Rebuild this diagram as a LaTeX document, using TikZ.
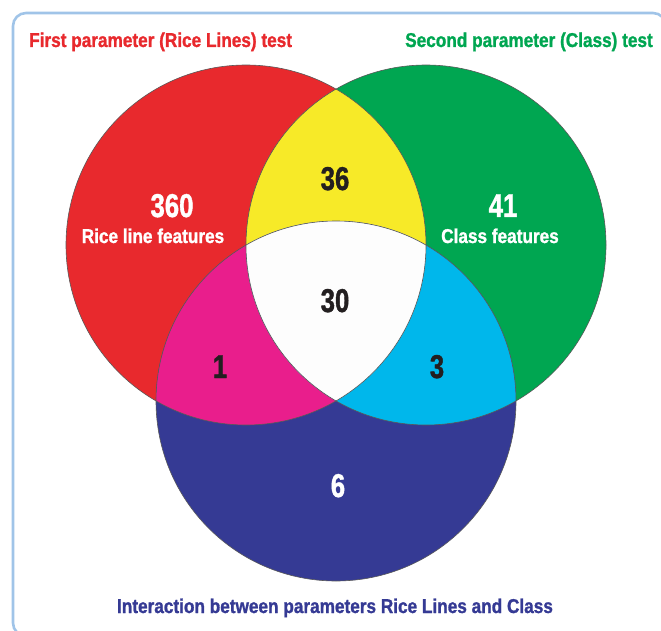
\documentclass[tikz,border=0pt]{standalone}
\usepackage{fontspec}
\newfontfamily\cond[FakeStretch=0.78,FakeBold=1.2]{Liberation Sans}
\newfontfamily\condw[FakeStretch=0.86,FakeBold=1.2]{Liberation Sans}
\definecolor{cred}{RGB}{232,41,45}
\definecolor{cgreen}{RGB}{0,166,81}
\definecolor{cblue}{RGB}{53,58,148}
\definecolor{cyellow}{RGB}{247,234,40}
\definecolor{cmag}{RGB}{233,30,140}
\definecolor{ccyan}{RGB}{0,183,235}
\definecolor{cwhite}{RGB}{253,253,253}
\definecolor{cframe}{RGB}{160,196,232}
\definecolor{cink}{RGB}{35,31,32}
\tikzset{
  lbl/.style={inner sep=0pt, anchor=base},
  title/.style={lbl, font=\condw\bfseries\fontsize{20}{24}\selectfont},
  big/.style={lbl, font=\cond\bfseries\fontsize{33}{36}\selectfont},
  sub/.style={lbl, font=\condw\bfseries\fontsize{20}{22}\selectfont, text=white},
  rim/.style={draw=black!65, line width=0.6pt}
}
\begin{document}
\begin{tikzpicture}[x=1pt,y=-1pt]
\useasboundingbox (0,0) rectangle (661,631);
\clip (0,0) rectangle (661,631);
\draw[cframe, line width=2.6pt, rounded corners=13pt] (13,13) rectangle (666,636);
% circles
\coordinate (R) at (246,245);
\coordinate (G) at (426,245);
\coordinate (B) at (336,401);
\fill[cred] (R) circle[radius=180];
\fill[cgreen] (G) circle[radius=180];
\fill[cblue] (B) circle[radius=180];
\begin{scope}
  \clip (R) circle[radius=180];
  \fill[cyellow] (G) circle[radius=180];
  \fill[cmag] (B) circle[radius=180];
\end{scope}
\begin{scope}
  \clip (G) circle[radius=180];
  \fill[ccyan] (B) circle[radius=180];
\end{scope}
\begin{scope}
  \clip (R) circle[radius=180];
  \clip (G) circle[radius=180];
  \fill[cwhite] (B) circle[radius=180];
\end{scope}
\draw[rim] (R) circle[radius=180];
\draw[rim] (G) circle[radius=180];
\draw[rim] (B) circle[radius=180];
% texts
\node[title, anchor=base west, text=cred] (t1) at (29,47) {First parameter (Rice Lines) test};
\node[title, anchor=base east, text=cgreen] (t2) at (653,47) {Second parameter (Class) test};
\node[title, text=cblue] (t3) at (335,613) {Interaction between parameters Rice Lines and Class};
\node[big, text=white] (n360) at (172,217) {360};
\node[sub] (s1) at (153,243) {Rice line features};
\node[big, text=white] (n41) at (503,217) {41};
\node[sub] (s2) at (500,243) {Class features};
\node[big, text=cink] (n36) at (335,190) {36};
\node[big, text=cink] (n30) at (335,312) {30};
\node[big, text=cink] (n1) at (220,378) {1};
\node[big, text=cink] (n3) at (437,378) {3};
\node[big, text=white] (n6) at (338,497) {6};
\end{tikzpicture}
\end{document}
